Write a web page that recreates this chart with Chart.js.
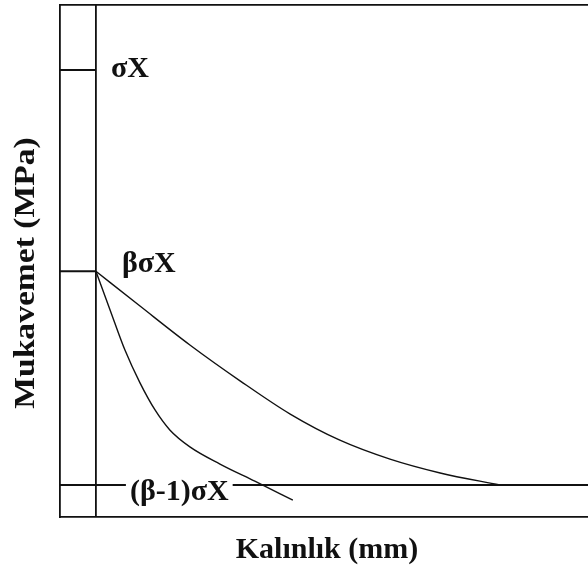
<!DOCTYPE html>
<html>
<head>
<meta charset="utf-8">
<script src="https://cdn.jsdelivr.net/npm/chart.js@4"></script>
<style>
  html, body { margin: 0; padding: 0; background: #fff; }
  #wrap { width: 588px; height: 569px; }
</style>
</head>
<body>
<div id="wrap"><canvas id="chart" width="588" height="569"></canvas></div>
<script>
// Strength levels (MPa, schematic) and their labels
const levelNames = ['σX', 'βσX', '(β-1)σX'];
const levelValues = [87.3, 48.0, 6.25];
// thickness where the inner vertical axis sits
const axisX = 6.8;

// upper curve
const curveAX = [6.8, 15.15, 24.6, 34.1, 43.6, 53.0, 62.5, 72.0, 83.3];
const curveAY = [48.0, 41.2, 33.6, 26.6, 20.1, 15.0, 11.3, 8.6, 6.25];
// lower curve
const curveBX = [6.8, 9.5, 12.3, 15.15, 18.0, 20.8, 24.6, 30.3, 36.9, 44.1];
const curveBY = [48.0, 40.4, 32.6, 26.2, 20.9, 17.0, 13.7, 10.35, 7.0, 3.3];

const xTitle = 'Kalınlık (mm)';
const yTitle = 'Mukavemet (MPa)';

const FONT = 'bold 30px "Liberation Serif", "Times New Roman", serif';
const INK = '#111';

function pts(xs, ys) {
  return xs.map((x, i) => ({ x: x, y: ys[i] }));
}

const lineStyle = { borderColor: INK, borderWidth: 1.8, pointRadius: 0, fill: false, tension: 0 };
const curveStyle = { borderColor: INK, borderWidth: 1.4, pointRadius: 0, fill: false, cubicInterpolationMode: 'monotone' };

const datasets = [
  // inner vertical axis
  Object.assign({ data: [{ x: axisX, y: 0 }, { x: axisX, y: 100 }] }, lineStyle),
  // short marks for σX and βσX, full line for (β-1)σX
  Object.assign({ data: [{ x: 0, y: levelValues[0] }, { x: axisX, y: levelValues[0] }] }, lineStyle),
  Object.assign({ data: [{ x: 0, y: levelValues[1] }, { x: axisX, y: levelValues[1] }] }, lineStyle),
  Object.assign({ data: [{ x: 0, y: levelValues[2] }, { x: 100, y: levelValues[2] }] }, lineStyle),
  Object.assign({ data: pts(curveAX, curveAY) }, curveStyle),
  Object.assign({ data: pts(curveBX, curveBY) }, curveStyle)
];

// draws level labels and axis titles
const textPlugin = {
  id: 'texts',
  afterDatasetsDraw(chart) {
    const ctx = chart.ctx;
    const xs = chart.scales.x, ys = chart.scales.y;
    const ax = xs.getPixelForValue(axisX);
    // [dx from inner axis, baseline dy from level]
    const offsets = [[15, 7], [26, 1], [34, 15]];
    ctx.save();
    ctx.font = FONT;
    ctx.textBaseline = 'alphabetic';
    ctx.textAlign = 'left';
    levelNames.forEach((name, i) => {
      const px = ax + offsets[i][0];
      const py = ys.getPixelForValue(levelValues[i]) + offsets[i][1];
      if (i === 2) {
        const w = ctx.measureText(name).width;
        ctx.fillStyle = '#fff';
        ctx.fillRect(px - 4, py - 24, w + 8, 30);
      }
      ctx.fillStyle = INK;
      ctx.fillText(name, px, py);
    });

    // axis titles
    const area = chart.chartArea;
    ctx.textAlign = 'center';
    ctx.fillText(xTitle, 327, area.bottom + 41);
    ctx.translate(34, 273);
    ctx.rotate(-Math.PI / 2);
    ctx.scale(1.12, 1);
    ctx.fillText(yTitle, 0, 0);
    ctx.restore();
  }
};

const chart = new Chart(document.getElementById('chart').getContext('2d'), {
  type: 'line',
  data: { datasets: datasets },
  options: {
    responsive: false,
    animation: false,
    events: [],
    layout: { padding: { left: 60, top: 5, right: 0, bottom: 52 } },
    plugins: { legend: { display: false }, tooltip: { enabled: false } },
    scales: {
      x: {
        type: 'linear', min: 0, max: 100, position: 'bottom',
        ticks: { display: false },
        grid: { display: false, drawTicks: false },
        border: { display: true, color: INK, width: 1.8 }
      },
      xTop: {
        type: 'linear', min: 0, max: 100, position: 'top',
        ticks: { display: false },
        grid: { display: false, drawTicks: false },
        border: { display: true, color: INK, width: 1.8 }
      },
      y: {
        type: 'linear', min: 0, max: 100,
        ticks: { display: false },
        grid: { display: false, drawTicks: false },
        border: { display: true, color: INK, width: 1.8 }
      }
    }
  },
  plugins: [textPlugin]
});
</script>
</body>
</html>
